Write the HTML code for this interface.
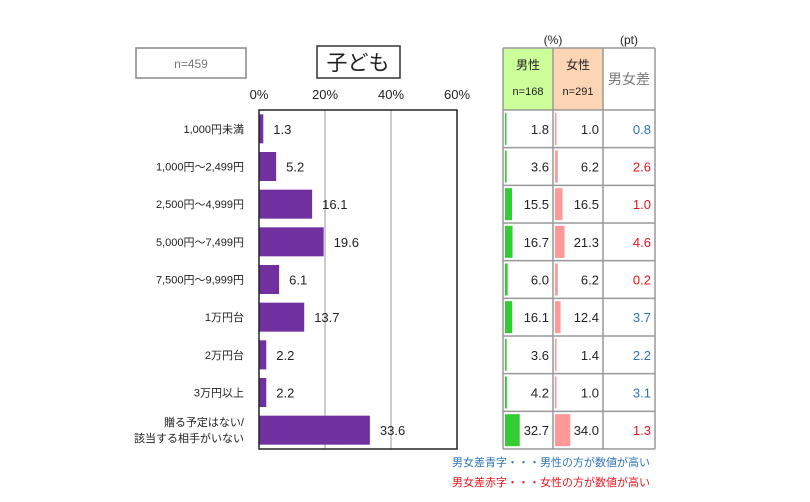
<!DOCTYPE html>
<html><head><meta charset="utf-8">
<style>
html,body{margin:0;padding:0;background:#fff;}
svg{display:block;font-family:"Liberation Sans","Noto Sans CJK JP",sans-serif;}
</style></head>
<body>
<svg id="c" width="810" height="502" viewBox="0 0 810 502" xmlns="http://www.w3.org/2000/svg"></svg>
<script>
const categories=["1,000円未満","1,000円～2,499円","2,500円～4,999円","5,000円～7,499円","7,500円～9,999円","1万円台","2万円台","3万円以上","贈る予定はない/|該当する相手がいない"];
const totalValues=[1.3,5.2,16.1,19.6,6.1,13.7,2.2,2.2,33.6];
const maleValues=[1.8,3.6,15.5,16.7,6.0,16.1,3.6,4.2,32.7];
const femaleValues=[1.0,6.2,16.5,21.3,6.2,12.4,1.4,1.0,34.0];
const diffValues=[0.8,2.6,1.0,4.6,0.2,3.7,2.2,3.1,1.3];
const diffColors=["blue","red","red","red","red","blue","blue","blue","red"];
const xTicks=[0,20,40,60];

const NS="http://www.w3.org/2000/svg";
const svg=document.getElementById('c');
function mk(t,a,p){const e=document.createElementNS(NS,t);for(const k in a)e.setAttribute(k,a[k]);(p||svg).appendChild(e);return e;}
const X0=259,X1=457,Y0=110,Y1=449,rowH=(Y1-Y0)/categories.length;
const xs=v=>X0+(X1-X0)*v/60;
const rowC=i=>Y0+rowH*(i+0.5);

// n box and title
let e=mk('rect',{x:136,y:48,width:110,height:30,fill:'#fff',stroke:'#888','stroke-width':1.5});

e=mk('text',{x:191,y:68,'text-anchor':'middle','font-size':12,fill:'#777'});e.textContent='n=459';

e=mk('rect',{x:317,y:46,width:83,height:32,fill:'#fff',stroke:'#333','stroke-width':1.5});

e=mk('text',{x:358,y:70,'text-anchor':'middle','font-size':21,fill:'#222'});e.textContent='子ども';


// gridlines & ticks
xTicks.forEach(t=>{
  if(t>0&&t<60){const g=mk('line',{x1:xs(t),x2:xs(t),y1:Y0,y2:Y1,stroke:'#999','stroke-width':1});
    }
  const l=mk('text',{x:xs(t),y:99,'text-anchor':'middle','font-size':13,fill:'#222'});l.textContent=t+'%';
  
});

// bars
categories.forEach((c,i)=>{
  const cy=rowC(i);
  const b=mk('rect',{x:X0,y:cy-14.5,width:xs(totalValues[i])-X0,height:29,fill:'#7030a0'});
  
  const v=mk('text',{x:xs(totalValues[i])+10,y:cy+5,'font-size':13,fill:'#222'});v.textContent=totalValues[i].toFixed(1);
  
  const parts=c.split('|');
  parts.forEach((p,j)=>{
    const t=mk('text',{x:244,y:cy+4+(j-(parts.length-1)/2)*16,'text-anchor':'end','font-size':11,fill:'#222'});t.textContent=p;
    
  });
});
e=mk('rect',{x:X0,y:Y0,width:X1-X0,height:Y1-Y0,fill:'none',stroke:'#222','stroke-width':1.5});


// table
const TX=[503,553,603,655],TY0=48;
e=mk('text',{x:553,y:44,'text-anchor':'middle','font-size':12,fill:'#222'});e.textContent='(%)';

e=mk('text',{x:629,y:44,'text-anchor':'middle','font-size':12,fill:'#222'});e.textContent='(pt)';

e=mk('rect',{x:503,y:TY0,width:50,height:Y0-TY0,fill:'#ccff99'});
e=mk('rect',{x:553,y:TY0,width:50,height:Y0-TY0,fill:'#fcd5b4'});
[['男性',528,69,12],['n=168',528,95,11],['女性',578,69,12],['n=291',578,95,11]].forEach(a=>{
  const t=mk('text',{x:a[1],y:a[2],'text-anchor':'middle','font-size':a[3],fill:'#222'});t.textContent=a[0];
  });
e=mk('text',{x:629,y:84,'text-anchor':'middle','font-size':14,fill:'#777'});e.textContent='男女差';

const bs=0.45;
categories.forEach((c,i)=>{
  const cy=rowC(i);
  const m=mk('rect',{x:505,y:cy-16,width:Math.max(1.5,maleValues[i]*bs),height:32,fill:'#33cc33'});
  
  const f=mk('rect',{x:555,y:cy-16,width:Math.max(1.5,femaleValues[i]*bs),height:32,fill:'#ff9999'});
  
  let t=mk('text',{x:549,y:cy+5,'text-anchor':'end','font-size':13,fill:'#222'});t.textContent=maleValues[i].toFixed(1);
  
  t=mk('text',{x:599,y:cy+5,'text-anchor':'end','font-size':13,fill:'#222'});t.textContent=femaleValues[i].toFixed(1);
  
  t=mk('text',{x:651,y:cy+5,'text-anchor':'end','font-size':13,fill:diffColors[i]==='blue'?'#2e75b6':'#e8141c'});t.textContent=diffValues[i].toFixed(1);
  
});
for(let i=0;i<=categories.length;i++){const y=Y0+rowH*i;const l=mk('line',{x1:503,x2:655,y1:y,y2:y,stroke:'#999','stroke-width':1.5});
  }
TX.forEach(x=>{const l=mk('line',{x1:x,x2:x,y1:TY0,y2:Y1,stroke:'#999','stroke-width':1.5});
  });
mk('line',{x1:503,x2:655,y1:TY0,y2:TY0,stroke:'#999','stroke-width':1.5});

e=mk('text',{x:650,y:466,'text-anchor':'end','font-size':11,fill:'#2e75b6'});e.textContent='男女差青字・・・男性の方が数値が高い';

e=mk('text',{x:650,y:486,'text-anchor':'end','font-size':11,fill:'#e8141c'});e.textContent='男女差赤字・・・女性の方が数値が高い';

</script>
</body></html>
